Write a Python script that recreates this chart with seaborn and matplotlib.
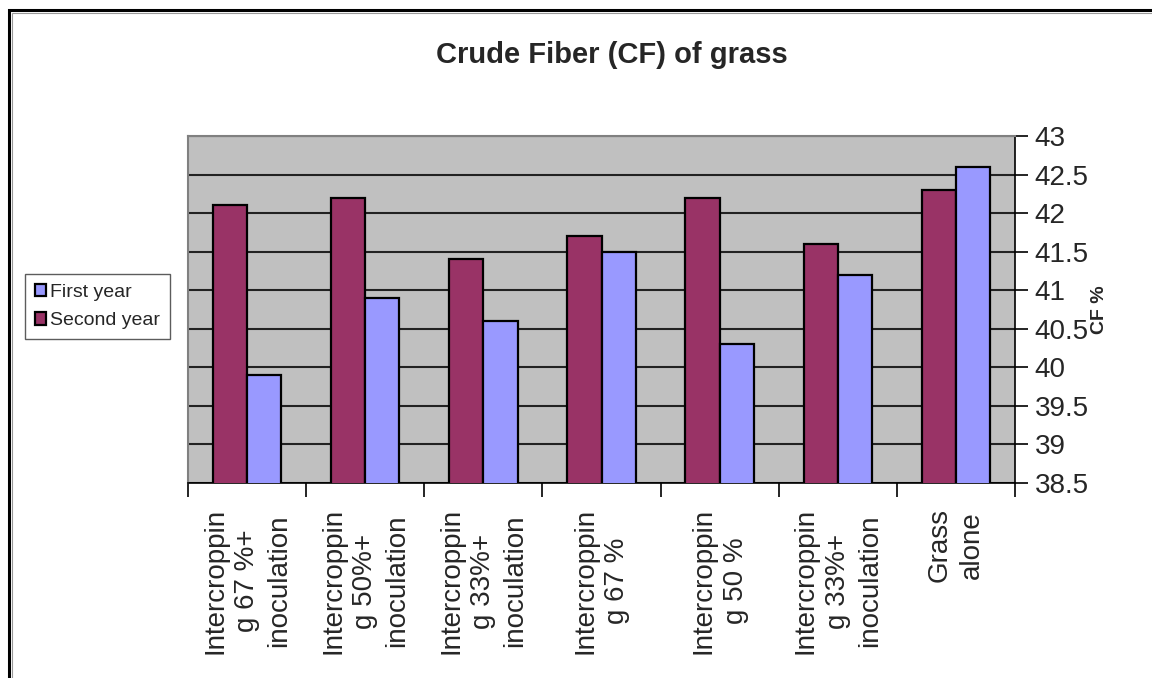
import pandas as pd
import numpy as np
import matplotlib
matplotlib.use("Agg")
import matplotlib.pyplot as plt
from matplotlib.patches import Rectangle
import seaborn as sns

categories = [
    "Intercroppin\ng 67 %+\ninoculation",
    "Intercroppin\ng 50%+\ninoculation",
    "Intercroppin\ng 33%+\ninoculation",
    "Intercroppin\ng 67 %",
    "Intercroppin\ng 50 %",
    "Intercroppin\ng 33%+\ninoculation",
    "Grass\nalone",
]
second_year = [42.1, 42.2, 41.4, 41.7, 42.2, 41.6, 42.3]
first_year = [39.9, 40.9, 40.6, 41.5, 40.3, 41.2, 42.6]
y_ticks = [38.5, 39, 39.5, 40, 40.5, 41, 41.5, 42, 42.5, 43]

# two labels are identical, so use a position key for the x variable
keys = [f"t{i}" for i in range(len(categories))]
df = pd.DataFrame({
    "treatment": keys * 2,
    "year": ["Second year"] * len(categories) + ["First year"] * len(categories),
    "cf": second_year + first_year,
})

sns.set_style("white")
plt.rcParams["font.family"] = ["Liberation Sans", "DejaVu Sans"]

fig = plt.figure(figsize=(11.52, 6.78), dpi=100)
ax = fig.add_axes([188 / 1152, 1 - 483 / 678, (1015 - 188) / 1152, (483 - 136) / 678])

sns.barplot(data=df, x="treatment", y="cf", hue="year", order=keys,
            hue_order=["Second year", "First year"],
            palette={"Second year": "#993366", "First year": "#9999FF"},
            saturation=1, errorbar=None,
            width=0.58, edgecolor="black", linewidth=1.6, ax=ax, zorder=3)

ax.set_facecolor("#C0C0C0")
ax.set_ylim(38.5, 43)
ax.set_xlim(-0.5, len(categories) - 0.5)
ax.set_axisbelow(True)
ax.yaxis.grid(True, color="#222222", linewidth=1.5)
ax.xaxis.grid(False)

# y axis on the right
ax.yaxis.tick_right()
ax.yaxis.set_label_position("right")
ax.set_yticks(y_ticks)
ax.set_yticklabels([f"{t:g}" for t in y_ticks])
ax.tick_params(axis="y", which="major", right=True, length=9, width=1.2,
               color="black", labelsize=20, pad=5)
ax.set_ylabel("CF %", fontsize=14, fontweight="bold", labelpad=2)

# category boundaries as ticks, labels at centres
ax.set_xticks(np.arange(-0.5, len(categories), 1.0))
ax.set_xticklabels([])
ax.tick_params(axis="x", which="major", bottom=True, length=10, width=1.2, color="black")
ax.set_xticks(np.arange(len(categories)), minor=True)
ax.set_xticklabels(categories, minor=True, rotation=90, fontsize=20,
                   ha="center", va="top", multialignment="center", linespacing=1.3)
ax.tick_params(axis="x", which="minor", length=0, pad=18)
ax.set_xlabel("")

for side in ["left", "top"]:
    ax.spines[side].set_color("#808080")
    ax.spines[side].set_linewidth(1.5)
for side in ["bottom", "right"]:
    ax.spines[side].set_color("black")
    ax.spines[side].set_linewidth(1.2)

# legend outside on the left
handles, labels = ax.get_legend_handles_labels()
ax.legend_.remove()
fig.legend(handles[::-1], labels[::-1], loc="upper left",
           bbox_to_anchor=(25 / 1152, 1 - 274 / 678), fontsize=14,
           frameon=True, fancybox=False, edgecolor="#333333",
           handlelength=0.6, handleheight=0.6, handletextpad=0.2,
           borderpad=0.5, labelspacing=0.6, borderaxespad=0)

fig.suptitle("Crude Fiber (CF) of grass", x=612 / 1152, y=1 - 55 / 678,
             fontsize=21, fontweight="bold", va="center")

# chart frame
fig.patches.append(Rectangle((9 / 1152, -0.1), 1.2, 1.1 - 10 / 678, transform=fig.transFigure,
                             fill=False, edgecolor="black", linewidth=2.2))
fig.patches.append(Rectangle((12 / 1152, -0.1), 1.2, 1.1 - 13 / 678, transform=fig.transFigure,
                             fill=False, edgecolor="#999999", linewidth=0.8))

fig.savefig("out.png", dpi=100)
